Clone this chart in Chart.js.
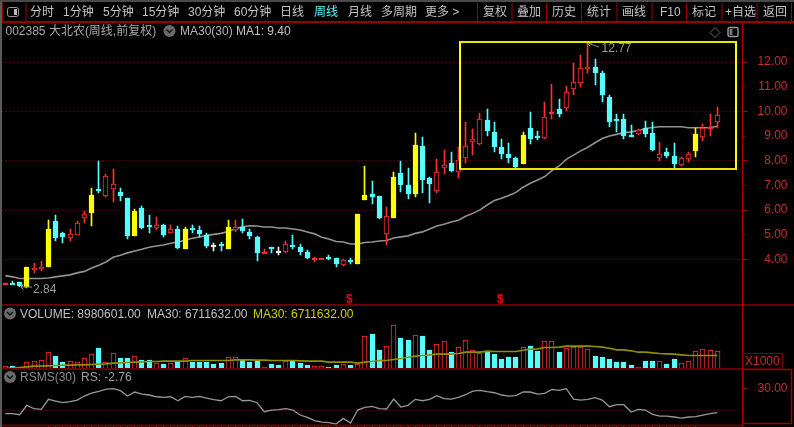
<!DOCTYPE html>
<html><head><meta charset="utf-8">
<style>
html,body{margin:0;padding:0;background:#000;width:794px;height:427px;overflow:hidden}
canvas{position:absolute;left:0;display:block}
.t{position:absolute;white-space:nowrap;font:12px "Liberation Sans","Noto Sans CJK SC",sans-serif;line-height:14px;z-index:5}
.r{position:absolute;z-index:4}
svg{position:absolute;left:0;top:0;z-index:4}
</style>
<script src="https://cdn.jsdelivr.net/npm/chart.js@4"></script>
</head><body>
<canvas id="price" width="794" height="281" style="top:23px;width:794px;height:281px"></canvas>
<canvas id="volume" width="794" height="64" style="top:305px;width:794px;height:64px"></canvas>
<canvas id="rs" width="794" height="57" style="top:370px;width:794px;height:57px"></canvas>
<svg width="794" height="427" id="ov"></svg>
<script>
// ---------- DATA ----------
const candleKind = [
 'f','d','d','y','r','r','y','d','d','r','r','r','y','d','r','r','d','d','y','d',
 'd','r','d','r','d','y','d','d','d','w','d','y','r','d','d','d','f','d','w','r',
 'd','d','d','f','f','d','d','r','d','y','y','d','d','r','y','d','d','y','d','d',
 'r','r','d','r','r','r','r','d','d','d','d','d','y','d','d','r','f','d','r','r',
 'r','r','d','d','d','d','d','d','r','d','d','r','d','d','r','r','y','r','f','r'];
const bodyTop = [3.04,3.04,3.09,3.69,3.66,3.71,5.22,5.55,5.06,5.05,5.47,5.84,6.60,6.84,7.38,7.04,6.72,6.48,5.95,6.08,
 5.40,5.39,5.39,5.22,5.22,5.22,5.28,5.18,5.00,4.59,4.63,5.31,5.33,5.33,5.13,4.93,4.29,4.50,4.33,4.65,
 4.59,4.50,4.29,4.05,4.08,4.12,4.05,3.99,3.98,5.83,6.60,6.64,6.56,5.78,7.33,7.52,7.00,8.63,8.59,7.29,
 7.53,7.84,7.90,8.02,8.61,8.87,9.71,9.64,9.15,8.57,8.26,8.10,9.06,9.34,8.99,9.79,9.97,10.11,10.80,11.20,
 11.77,11.81,11.81,11.54,10.57,9.68,9.68,9.03,9.25,9.33,9.14,8.29,8.37,8.21,8.13,8.29,9.10,9.31,9.38,9.87];
const bodyBottom = [2.96,3.00,2.93,2.90,3.58,3.63,3.69,4.89,4.90,4.86,5.01,5.70,5.90,6.78,6.56,6.87,6.56,4.97,4.97,5.28,
 5.32,5.28,5.01,5.06,4.46,4.44,5.20,5.02,4.56,4.56,4.58,4.44,5.20,5.17,4.97,4.25,4.25,4.43,4.29,4.29,
 4.52,4.32,4.05,3.98,4.02,4.05,3.81,3.78,3.90,3.84,6.40,6.55,5.67,5.02,5.67,7.02,6.64,6.64,7.21,7.05,
 6.77,7.69,7.60,7.53,8.10,8.75,8.67,9.22,8.55,8.29,8.10,7.76,7.88,8.87,8.94,8.91,9.92,9.90,10.12,10.89,
 11.14,11.70,11.54,10.66,9.58,9.64,9.02,9.00,9.07,9.07,8.45,8.10,8.21,7.87,7.84,8.07,8.38,8.98,9.33,9.58];
const high = [3.04,3.12,3.09,3.69,3.85,3.96,5.60,5.79,5.12,5.22,5.55,5.98,6.90,7.98,7.47,7.65,6.90,6.51,6.06,6.17,
 5.79,5.71,5.44,5.39,5.36,5.31,5.39,5.35,5.09,4.66,4.71,5.60,5.60,5.63,5.24,4.95,4.42,4.50,4.50,4.74,
 4.98,4.62,4.37,4.10,4.08,4.19,4.05,4.02,4.06,5.83,7.79,7.18,6.59,6.12,7.53,7.98,7.69,9.14,8.95,7.33,
 8.09,8.44,8.34,8.55,9.58,9.27,9.95,10.08,9.56,8.87,8.71,8.17,9.15,9.96,9.19,10.37,11.10,10.49,11.04,11.95,
 12.27,12.77,12.11,11.65,10.66,9.90,9.90,9.44,9.27,9.61,9.56,8.75,8.50,8.71,8.15,8.34,9.33,9.48,9.91,10.19];
const low = [2.96,3.00,2.88,2.84,3.47,3.52,3.69,4.77,4.66,4.77,5.01,5.50,5.37,6.71,6.55,6.34,6.39,4.85,4.97,5.22,
 5.06,5.20,4.93,5.06,4.42,4.44,5.09,4.90,4.47,4.36,4.36,4.44,5.13,5.09,4.82,3.96,4.25,4.25,4.20,4.28,
 4.42,4.20,4.01,3.92,4.02,3.97,3.71,3.75,3.84,3.84,6.40,6.27,5.66,4.58,5.67,6.72,6.44,6.52,6.68,6.30,
 6.68,7.45,7.56,7.32,7.90,8.22,8.65,9.02,8.37,8.09,7.90,7.67,7.88,8.69,8.84,8.90,9.68,9.79,10.02,10.66,
 10.97,11.54,11.08,10.39,9.38,9.18,8.90,8.95,9.06,8.96,8.41,7.98,8.13,7.70,7.80,7.96,8.14,8.82,9.02,9.31];
const ma30 = [3.35,3.30,3.23,3.23,3.23,3.23,3.25,3.30,3.34,3.38,3.46,3.52,3.66,3.77,3.90,4.09,4.17,4.27,4.35,4.42,
 4.50,4.55,4.59,4.66,4.71,4.78,4.86,4.91,4.98,5.02,5.06,5.14,5.25,5.33,5.37,5.36,5.32,5.32,5.28,5.28,
 5.24,5.20,5.12,5.04,4.90,4.83,4.73,4.71,4.63,4.63,4.69,4.71,4.75,4.77,4.87,4.92,4.96,5.06,5.12,5.24,
 5.36,5.43,5.52,5.59,5.75,5.87,6.01,6.21,6.39,6.48,6.59,6.72,6.93,7.09,7.22,7.36,7.60,7.79,8.06,8.23,
 8.40,8.55,8.73,8.90,9.00,9.07,9.14,9.17,9.22,9.31,9.35,9.38,9.38,9.38,9.38,9.34,9.34,9.34,9.35,9.40];
const volume = [1394,1558,902,3362,4018,4510,8446,6478,3526,4018,3526,5494,7462,10414,3362,7954,5494,5494,6478,4510,
 4510,2870,2542,2870,3690,5494,3690,3690,3690,2542,3034,5986,5986,4674,3526,4018,1066,2542,2214,4182,
 4182,3034,2050,1394,1394,1066,2050,2542,2050,2706,16318,17302,9430,11398,21566,15334,14350,16810,16318,9430,
 12382,13858,8446,10906,14350,9430,8118,8774,7462,5002,5986,5986,10906,11398,8774,13858,13858,8446,10414,11070,
 10906,10086,6478,5986,5002,3526,3526,2050,1066,4018,4018,4018,2542,5002,3034,4018,8938,9922,9430,8981];
const volumeMa30 = [246,410,738,1066,1394,1394,1558,1722,1886,1886,2050,2050,2214,2378,2542,2870,3034,3198,3362,3526,
 3690,3690,3854,3854,3854,3854,4182,4182,4182,4182,4182,4182,4510,4510,4510,4346,4346,4182,4182,4182,
 4182,4000,3854,3854,3854,3362,3362,3362,3362,2870,3362,3690,4182,4182,4674,5166,5740,6314,6642,6970,
 7298,7298,7298,7626,8282,8282,8282,8774,8610,8610,8610,8610,9266,9758,9922,10578,10578,10742,11234,11234,
 11234,11234,11070,10742,10250,9430,9430,8938,8282,8282,7954,7626,7462,7298,6970,6642,6642,6642,6642,6712];
const rsValues = [-4.1,-4.1,-5.5,7.3,2.7,1.8,15.5,13.2,10.9,12.3,14.5,20,24,26.4,29.5,30,27.3,20,25.5,22.7,
 21.4,19,18.2,19,13.6,19.5,18.2,19.5,17.3,15,13.6,19,19.5,13.6,14,10.9,-1.4,0.9,1.4,2.7,
 0.9,-5.9,-9,-13.6,-15.5,-16.4,-18.2,-10.5,-16.8,0.9,4.5,5.9,2.7,2.3,15.9,5,7.3,15.5,13.6,15.5,
 20.5,16.4,15.9,18.2,21.8,26.8,27.7,25.9,24.5,21.4,20,20.5,25.5,25.5,22.7,23.6,29,27.7,30,15.9,
 14.5,15.5,17.7,14.5,5.5,8.2,8.2,-1.8,1.8,0.9,-5,-7.3,-7.3,-8.6,-10,-8.6,-8.2,-5.9,-4.1,-2.76];
const blankSlots = 3;
const categories = Array.from({length: bodyTop.length + blankSlots}, (_, i) => String(i + 1));
const priceLabels = [4,5,6,7,8,9,10,11,12];
const toolbarLeft = [['分时',30],['1分钟',63],['5分钟',103],['15分钟',142],['30分钟',188],['60分钟',234],['日线',280],['周线',314],['月线',348],['多周期',381],['更多 >',425]];
const toolbarRight = [['复权',483],['叠加',517],['历史',552],['统计',587],['画线',622],['F10',660],['标记',692],['+自选',725],['返回',763]];

// ---------- STYLE ----------
const RED='#ff3030', CYAN='#55ffff', YEL='#ffff00', WHITE='#f0f0f0', AXIS='#c82c2c', DOT='#8a0c0c';
const kindFill = k => k==='d'?CYAN:k==='y'?YEL:k==='w'?WHITE:k==='f'?RED:'#000';
const kindEdge = k => k==='d'?CYAN:k==='y'?YEL:k==='w'?WHITE:RED;
const isUp = i => 'rfy'.includes(candleKind[i]);
Chart.defaults.animation=false;
Chart.defaults.font.family='"Liberation Sans",sans-serif';
Chart.defaults.font.size=12;

// keeps the library's bars on whole pixels, as the terminal draws them
const crispBars={id:'crispBars',beforeDatasetDraw(chart,args){
 const meta=args.meta; if(meta.type!=='bar')return;
 meta.data.forEach(el=>{
  el.x=Math.floor(el.x)+0.5;
  el.y=Math.round(el.y); el.base=Math.round(el.base);
  if(Math.abs(el.base-el.y)<2&&meta.controller.getDataset().barThickness>2) el.base=el.y+2;
 });
}};
Chart.register(crispBars);

const zeroPad=s=>{s.paddingTop=0;s.paddingBottom=0;s.paddingLeft=0;s.paddingRight=0;};
function yAxis(min,max,step,tickShown,gridShown,fmt,shortTick){
 return {position:'right',min,max,stacked:false,
  afterFit(s){s.width=45;zeroPad(s);},
  border:{display:false,dash:[1,3]},
  grid:{
   color:c=>gridShown(c.tick.value)?DOT:'rgba(0,0,0,0)',
   lineWidth:1,
   tickLength:5,
   tickColor:c=>tickShown(c.tick.value)?'#a01010':'rgba(0,0,0,0)',
   tickWidth:1,
   tickBorderDash:c=>shortTick&&shortTick(c.tick.value)?[2,10]:[],
   offset:false},
  ticks:{stepSize:step,includeBounds:false,autoSkip:false,crossAlign:'far',padding:0,color:AXIS,
   font:{size:12},maxRotation:0,callback:v=>tickShown(v)?fmt(v):''}
 };
}
const hiddenX={type:'category',offset:true,display:false,grid:{display:false},afterFit:zeroPad};
const plugins={legend:{display:false},tooltip:{enabled:false},title:{display:false}};
const base={responsive:false,maintainAspectRatio:false,devicePixelRatio:1,plugins,
 layout:{padding:{left:1.7,right:6.5,top:0,bottom:0}}};

new Chart(document.getElementById('price'),{type:'bar',
 data:{labels:categories,datasets:[
  {type:'line',data:ma30,borderColor:'#929292',borderWidth:1.6,pointRadius:0,tension:0,order:3},
  {data:high.map((h,i)=>[low[i],h]),backgroundColor:candleKind.map(kindEdge),borderWidth:0,barThickness:1,stack:'c',order:2},
  {data:bodyTop.map((t,i)=>[bodyBottom[i],t]),backgroundColor:candleKind.map(kindFill),
   borderColor:candleKind.map(kindEdge),borderWidth:1,borderSkipped:false,barThickness:5,stack:'c',order:1}
 ]},
 options:{...base,scales:{x:hiddenX,
  y:yAxis(2.20,13.58,1,v=>priceLabels.includes(v),v=>priceLabels.includes(v)&&v%2===0,v=>v.toFixed(2),v=>v%2===1)}}
});
new Chart(document.getElementById('volume'),{type:'bar',
 data:{labels:categories,datasets:[
  {type:'line',data:volumeMa30,borderColor:'#909000',borderWidth:1.6,pointRadius:0,tension:0,order:1},
  {data:volume,backgroundColor:volume.map((_,i)=>isUp(i)?'#000':CYAN),borderColor:volume.map((_,i)=>isUp(i)?RED:CYAN),
   borderWidth:1,borderSkipped:false,barThickness:5,order:2}
 ]},
 options:{...base,scales:{x:hiddenX,
  y:yAxis(0,31488,15000,v=>v===15000,v=>v===15000,v=>String(v))}}
});
new Chart(document.getElementById('rs'),{type:'line',
 data:{labels:categories,datasets:[{data:rsValues,borderColor:'#989898',borderWidth:1.3,pointRadius:0,tension:0}]},
 options:{...base,scales:{
  x:{type:'category',offset:true,afterFit(s){s.height=2;zeroPad(s);},border:{display:false},
   grid:{drawOnChartArea:false,tickLength:2,tickColor:c=>(c.index>=6&&c.index<=96)?'#c02020':'rgba(0,0,0,0)'},
   ticks:{display:false,autoSkip:false}},
  y:yAxis(-19.5,55.5,30,v=>v===30,v=>v===0,v=>v.toFixed(2))}}
});

// ---------- FRAME, TEXT, ICONS ----------
const ov=document.getElementById('ov');
let s='';
const rect=(x,y,w,h,f)=>{s+=`<rect x="${x}" y="${y}" width="${w}" height="${h}" fill="${f}"/>`;};
rect(0,0,2,427,'#5a5a5a'); rect(0,0,794,2,'#4a4a4a');
rect(2,21,792,2,'#960000'); rect(2,3,1,19,'#960000');
[25.5,477,511.5,546,581,616.5,651.5,686,721.5,756.5,791].forEach(x=>rect(x,3,1,18,'#a00000'));
rect(2,304,741,2,'#6a0000'); rect(743,304,51,2,'#6a0000');
rect(2,368,741,2,'#6a0000'); rect(2,424.5,741,2,'#6a0000');
rect(742,23,1.2,403,'#b00000');
s+='<rect x="743" y="353.5" width="39.5" height="15.5" fill="none" stroke="#7a0000"/>';
s+='<rect x="743" y="369.5" width="48.5" height="54" fill="none" stroke="#a00000" stroke-width="1.5"/>';
s+='<rect x="7.5" y="7.5" width="11" height="9" rx="2" fill="none" stroke="#999"/><rect x="14" y="9" width="3" height="6" fill="#bbb"/>';
s+='<path d="M715 27.5 L720 32.5 L715 37.5 L710 32.5 Z" fill="none" stroke="#666"/>';
s+='<rect x="728" y="27.5" width="10" height="9" rx="2" fill="none" stroke="#999" stroke-width="1.4"/><rect x="729.5" y="29" width="3" height="6" fill="#777"/>';
[[169.5,31],[10,313.5],[10,377]].forEach(([x,y])=>{
 s+=`<circle cx="${x}" cy="${y}" r="6" fill="#6a6a6a"/><path d="M${x-3} ${y-1.5} L${x} ${y+1.5} L${x+3} ${y-1.5}" fill="none" stroke="#111" stroke-width="1.4"/>`;});
s+='<path d="M21 287 L32 287 M21 287 L23.5 284.5 M21 287 L23.5 289.5" stroke="#8c8c8c" fill="none"/>';
s+='<path d="M587.5 43 L599 47 M587.5 43 L592 43 M587.5 43 L590 46.5" stroke="#8c8c8c" fill="none"/>';
ov.innerHTML=s;

function text(str,x,yc,color,opt={}){
 const d=document.createElement('div');d.className='t';d.textContent=str;
 d.style.left=x+'px';d.style.top=(yc-7)+'px';d.style.color=color;
 if(opt.size)d.style.fontSize=opt.size+'px';
 if(opt.bold)d.style.fontWeight='bold';
 document.body.appendChild(d);
}
toolbarLeft.concat(toolbarRight).forEach(([t,x])=>text(t,x,12,t==='周线'?CYAN:'#c4c4c4'));
text('002385 大北农(周线,前复权)',5.5,31,'#a8a8a8');
text('MA30(30)',180,31,'#b4b4b4');
text('MA1: 9.40',236,31,'#c4c4c4');
text('VOLUME: 8980601.00',20,313.5,'#c0c0c0');
text('MA30: 6711632.00',147,313.5,'#c0c0c0');
text('MA30: 6711632.00',253,313.5,'#d0d000');
text('RSMS(30)',20,377,'#8c8c8c');
text('RS: -2.76',81,377,'#a0a0a0');
text('X1000',745,361,AXIS,{size:12});
text('2.84',33,289,'#9a9a9a');
text('12.77',601.5,48,'#9a9a9a');
text('$',346,298.5,'#f00000',{bold:true,size:12});
text('$',497,298.5,'#f00000',{bold:true,size:12});
const box=document.createElement('div');box.className='r';
box.style.cssText='left:459px;top:41px;width:278px;height:129px;box-sizing:border-box;border:2px solid #ffff00;border-color:#e6e600 #ffff00 #e6e600 #ffff00';
document.body.appendChild(box);
</script>
</body></html>
